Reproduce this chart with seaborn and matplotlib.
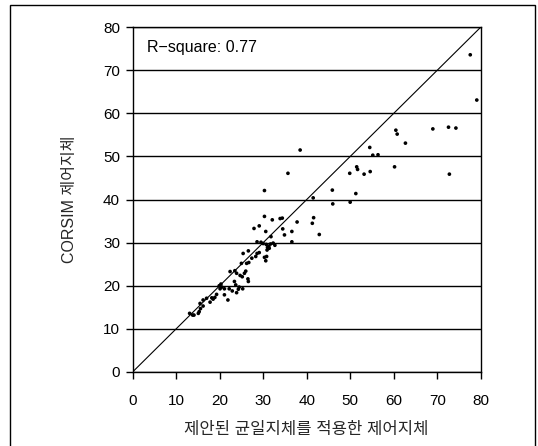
import numpy as np
import pandas as pd
import matplotlib
matplotlib.use("Agg")
import matplotlib.pyplot as plt
from matplotlib.patches import Rectangle
import seaborn as sns

# ─── DATA ─────────────────────────────────────────────────────
# x: 제안된 균일지체를 적용한 제어지체, y: CORSIM 제어지체
proposed_delay = [
    77.6, 79.1, 69.0, 72.6, 74.3, 60.5, 60.8, 62.7, 54.5, 55.2, 56.4,
    60.2, 51.5, 51.7, 49.9, 53.2, 54.6, 72.8, 45.9, 51.3, 46.0, 50.0,
    38.5, 35.7, 30.3, 41.5, 30.3, 32.1, 33.9, 34.4, 37.8, 41.6, 41.3,
    27.9, 29.1, 30.6, 34.5, 36.6, 34.9, 42.9, 31.8, 36.6, 28.6, 30.0,
    30.7, 31.3, 31.7, 32.7, 31.4, 26.6, 28.6, 30.9, 28.3, 30.8, 25.4,
    27.4, 29.5, 32.3, 31.0, 29.1, 30.6, 30.3, 26.2, 26.7, 25.0, 23.5,
    23.9, 22.4, 26.0, 25.7, 25.2, 26.5, 24.7, 23.4, 23.7, 26.6, 20.3,
    19.9, 20.5, 20.1, 22.2, 21.1, 24.5, 24.3, 23.9, 25.3, 22.9, 21.1,
    21.9, 19.3, 18.9, 18.2, 18.5, 17.0, 16.2, 17.8, 15.5, 15.6, 15.1,
    13.8, 13.1, 14.1, 15.3, 16.2,
]
corsim_delay = [
    73.6, 63.1, 56.4, 56.8, 56.6, 56.1, 55.2, 53.1, 52.1, 50.3, 50.4,
    47.6, 47.6, 47.0, 46.1, 45.9, 46.5, 45.9, 42.2, 41.4, 39.0, 39.4,
    51.5, 46.1, 42.1, 40.4, 36.1, 35.3, 35.6, 35.7, 34.8, 35.8, 34.5,
    33.3, 33.9, 32.6, 33.2, 32.6, 31.8, 31.9, 31.4, 30.2, 30.2, 29.8,
    29.6, 29.2, 29.7, 29.4, 28.7, 28.1, 27.5, 28.3, 26.8, 26.8, 27.5,
    26.4, 30.1, 29.9, 28.9, 27.7, 25.8, 26.6, 25.2, 25.4, 25.2, 23.5,
    22.9, 23.3, 23.4, 22.9, 22.1, 21.6, 22.4, 21.0, 20.2, 21.0, 20.4,
    20.0, 19.7, 19.3, 19.3, 19.3, 19.7, 19.2, 18.4, 19.3, 18.8, 17.9,
    16.7, 18.0, 17.3, 17.2, 16.9, 17.1, 16.7, 16.2, 15.9, 14.7, 13.6,
    13.2, 13.6, 13.2, 14.0, 15.3,
]
diag = [0, 80]
ticks = [0, 10, 20, 30, 40, 50, 60, 70, 80]
r_square = 0.77

df = pd.DataFrame({"proposed": proposed_delay, "corsim": corsim_delay})

# ─── STYLE ────────────────────────────────────────────────────
sns.set_style("white")
plt.rcParams["font.family"] = ["Liberation Sans", "Noto Sans CJK KR"]
plt.rcParams["font.size"] = 10.5

fig = plt.figure(figsize=(5.38, 4.46), dpi=100)
ax = fig.add_axes([0.2465, 0.166, 0.647, 0.773])

# ─── PLOT ─────────────────────────────────────────────────────
ax.plot(diag, diag, color="black", linewidth=0.8, zorder=2)
sns.scatterplot(data=df, x="proposed", y="corsim", ax=ax, color="black",
                s=7, edgecolor="none", zorder=3, legend=False)

ax.set_xlim(0, 80)
ax.set_ylim(0, 80)
ax.set_xticks(ticks)
ax.set_yticks(ticks)
ax.yaxis.grid(True, color="black", linewidth=1.0)
ax.xaxis.grid(False)
ax.set_axisbelow(True)
for sp in ax.spines.values():
    sp.set_color("black")
    sp.set_linewidth(1.0)

ax.tick_params(axis="both", direction="out", length=5, width=1.0,
               color="black", labelsize=11, labelcolor="black")
ax.tick_params(axis="x", pad=11, bottom=True)
ax.tick_params(axis="y", pad=4, left=True)

ax.set_xlabel("제안된 균일지체를 적용한 제어지체", fontsize=12)
ax.set_ylabel("CORSIM 제어지체", fontsize=11.5)
ax.xaxis.set_label_coords(0.5, -0.145)
ax.yaxis.set_label_coords(-0.16, 0.5)

ax.text(3.2, 75.4, f"R\u2212square: {r_square:.2f}", fontsize=11.5,
        ha="left", va="center", color="black")

# outer frame around the whole chart
fig.patches.append(Rectangle((0.0195, -0.02), 0.975, 1.0088, transform=fig.transFigure,
                             fill=False, edgecolor="black", linewidth=1.0, clip_on=False))

fig.savefig("out.png", dpi=100)
plt.close(fig)
